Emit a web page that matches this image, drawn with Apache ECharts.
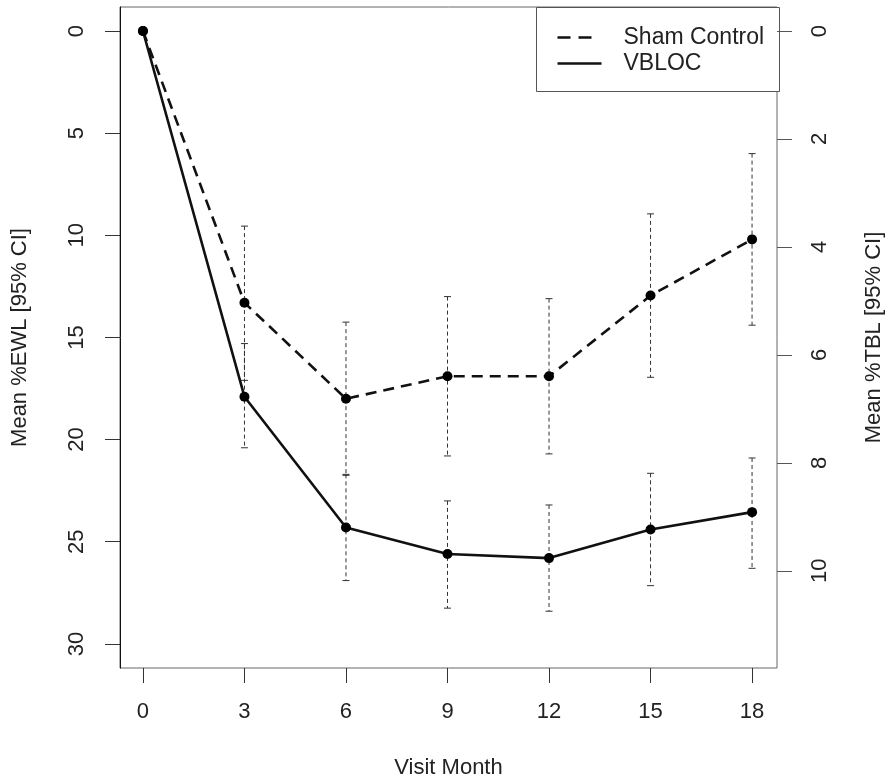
<!DOCTYPE html>
<html>
<head>
<meta charset="utf-8">
<script src="https://cdn.jsdelivr.net/npm/echarts@6/dist/echarts.min.js"></script>
<style>html,body{margin:0;padding:0;background:#fff}#c{width:893px;height:784px}</style>
</head>
<body>
<div id="c"></div>
<script>
// Data (%EWL, left axis, inverted)
const months = [0, 3, 6, 9, 12, 15, 18];
const shamMean = [0, 13.3, 18.0, 16.9, 16.9, 12.95, 10.2];
const shamLo = [null, 9.55, 14.25, 13.0, 13.1, 8.95, 6.0];
const shamHi = [null, 17.1, 21.75, 20.8, 20.7, 16.95, 14.4];
const vblocMean = [0, 17.9, 24.3, 25.6, 25.8, 24.4, 23.55];
const vblocLo = [null, 15.3, 21.7, 23.0, 23.2, 21.65, 20.9];
const vblocHi = [null, 20.4, 26.9, 28.25, 28.4, 27.15, 26.3];
const xTicks = [0, 3, 6, 9, 12, 15, 18];
const ewlTicks = [0, 5, 10, 15, 20, 25, 30];
const tblTicks = [0, 2, 4, 6, 8, 10];
const seriesNames = ['Sham Control', 'VBLOC'];

const FONT = '"Liberation Sans", Arial, Helvetica, sans-serif';
const TXT = '#222';

function pairs(xs, ys) { return xs.map((x, i) => [x, ys[i]]); }
function ciData(xs, lo, hi) {
  const out = [];
  xs.forEach((x, i) => { if (lo[i] != null) out.push([x, lo[i], hi[i]]); });
  return out;
}
function errRender(params, api) {
  const x = api.value(0);
  const p1 = api.coord([x, api.value(1)]);
  const p2 = api.coord([x, api.value(2)]);
  const w = 3.5;
  const st = { stroke: '#333', lineWidth: 1 };
  return {
    type: 'group',
    children: [
      { type: 'line', shape: { x1: p1[0], y1: p1[1], x2: p2[0], y2: p2[1] }, style: Object.assign({ lineDash: [4, 3] }, st) },
      { type: 'line', shape: { x1: p1[0] - w, y1: p1[1], x2: p1[0] + w, y2: p1[1] }, style: st },
      { type: 'line', shape: { x1: p2[0] - w, y1: p2[1], x2: p2[0] + w, y2: p2[1] }, style: st }
    ]
  };
}

const chart = echarts.init(document.getElementById('c'), null, { renderer: 'canvas' });
const option = {
  animation: false,
  backgroundColor: '#fff',
  textStyle: { fontFamily: FONT, color: TXT },
  grid: { left: 120, right: 114, top: 7, bottom: 116, show: true, borderColor: '#666', borderWidth: 1, backgroundColor: 'transparent' },
  xAxis: {
    type: 'value', min: -0.678, max: 18.737, position: 'bottom',
    name: 'Visit Month', nameLocation: 'middle', nameGap: 89,
    nameTextStyle: { fontSize: 22, color: TXT, fontFamily: FONT },
    axisLine: { show: false, onZero: false },
    splitLine: { show: false },
    axisTick: { show: true, length: 15, customValues: xTicks, lineStyle: { color: '#333', width: 1 } },
    axisLabel: { customValues: xTicks, margin: 33, fontSize: 22, color: TXT, fontFamily: FONT }
  },
  yAxis: [
    {
      type: 'value', inverse: true, min: -1.176, max: 31.18, position: 'left',
      name: 'Mean %EWL [95% CI]', nameLocation: 'middle', nameGap: 89, nameRotate: 90,
      nameTextStyle: { fontSize: 22, color: TXT, fontFamily: FONT },
      axisLine: { show: true, onZero: false, lineStyle: { color: '#111', width: 1 } },
      splitLine: { show: false },
      axisTick: { show: true, length: 15, customValues: ewlTicks, lineStyle: { color: '#333', width: 1 } },
      axisLabel: { customValues: ewlTicks, rotate: 90, margin: 32, fontSize: 22, color: TXT, fontFamily: FONT }
    },
    {
      type: 'value', inverse: true, min: -0.445, max: 11.8, position: 'right',
      name: 'Mean %TBL [95% CI]', nameLocation: 'middle', nameGap: 86, nameRotate: 90,
      nameTextStyle: { fontSize: 22, color: TXT, fontFamily: FONT },
      axisLine: { show: false, onZero: false },
      splitLine: { show: false },
      axisTick: { show: true, length: 15, customValues: tblTicks, lineStyle: { color: '#555', width: 1 } },
      axisLabel: { customValues: tblTicks, rotate: 90, margin: 32, fontSize: 22, color: TXT, fontFamily: FONT }
    }
  ],
  series: [
    {
      name: seriesNames[0] + ' CI', type: 'custom', renderItem: errRender,
      data: ciData(months, shamLo, shamHi), encode: { x: 0, y: [1, 2] }, z: 1, silent: true
    },
    {
      name: seriesNames[1] + ' CI', type: 'custom', renderItem: errRender,
      data: ciData(months, vblocLo, vblocHi), encode: { x: 0, y: [1, 2] }, z: 1, silent: true
    },
    {
      name: seriesNames[0], type: 'line', data: pairs(months, shamMean),
      symbol: 'circle', symbolSize: 10, itemStyle: { color: '#000' },
      lineStyle: { color: '#111', width: 2.6, type: [11, 7] }, z: 3
    },
    {
      name: seriesNames[1], type: 'line', data: pairs(months, vblocMean),
      symbol: 'circle', symbolSize: 10, itemStyle: { color: '#000' },
      lineStyle: { color: '#111', width: 2.6, type: 'solid' }, z: 3
    }
  ],
  graphic: [
    {
      type: 'group', left: 536, top: 7, z: 10,
      children: [
        { type: 'rect', shape: { x: 0, y: 0, width: 243, height: 84 }, style: { fill: '#fff', stroke: '#555', lineWidth: 1 } },
        { type: 'line', shape: { x1: 21, y1: 30, x2: 58, y2: 30 }, style: { stroke: '#111', lineWidth: 2.6, lineDash: [13, 8] } },
        { type: 'line', shape: { x1: 21, y1: 56, x2: 65, y2: 56 }, style: { stroke: '#111', lineWidth: 2.6 } },
        { type: 'text', x: 87, y: 30, style: { text: seriesNames[0], fontSize: 23, fontFamily: FONT, fill: TXT, verticalAlign: 'middle' } },
        { type: 'text', x: 87, y: 56, style: { text: seriesNames[1], fontSize: 23, fontFamily: FONT, fill: TXT, verticalAlign: 'middle' } }
      ]
    }
  ]
};
chart.setOption(option);
</script>
</body>
</html>
